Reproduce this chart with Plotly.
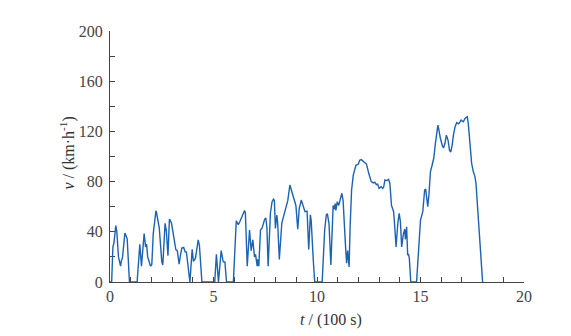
import plotly.graph_objects as go

# time in units of 100 s, speed in km/h
t = [0, 0.08, 0.14, 0.19, 0.28, 0.33, 0.41, 0.51, 0.55, 0.6, 0.72, 0.83, 0.94,
     1.31, 1.44, 1.52, 1.65, 1.72, 1.77, 1.82, 1.96, 2.02, 2.09, 2.22, 2.25,
     2.38, 2.5, 2.55, 2.66, 2.72, 2.8, 2.87, 2.9, 2.97, 3.07, 3.18, 3.25, 3.34,
     3.4, 3.47, 3.56, 3.63, 3.69, 3.79, 3.86, 3.97, 4.03, 4.13, 4.26, 4.32,
     4.44, 5.06, 5.14, 5.24, 5.37, 5.47, 5.55, 5.63, 5.96,
     6.1, 6.2, 6.27, 6.4, 6.5, 6.54, 6.61, 6.63, 6.74, 6.82, 6.9, 6.98, 7.03,
     7.11, 7.14, 7.19, 7.27, 7.35, 7.47, 7.53, 7.58, 7.64, 7.75, 7.83, 7.9,
     7.94, 7.99, 8.06, 8.1, 8.18, 8.3, 8.45, 8.5, 8.59, 8.69, 8.79, 8.83,
     8.93, 8.98, 9.07, 9.14, 9.24, 9.33, 9.42, 9.52, 9.6, 9.68, 9.72, 9.82,
     9.89, 10.25, 10.37, 10.45, 10.5, 10.58, 10.67, 10.78, 10.83, 10.88,
     10.91, 10.98, 11.05, 11.2, 11.26, 11.38, 11.43, 11.48, 11.55, 11.6,
     11.67, 11.75, 11.88, 12.0, 12.06, 12.14, 12.26, 12.39, 12.5, 12.62,
     12.72, 12.79, 12.87, 12.93, 13.0, 13.1, 13.17, 13.22, 13.28, 13.38,
     13.46, 13.52, 13.6, 13.65, 13.7, 13.73, 13.82, 13.9, 13.97, 14.03, 14.09,
     14.17, 14.24, 14.27, 14.33, 14.38, 14.42, 14.46, 14.53, 14.81, 14.89,
     15.0, 15.11, 15.2, 15.25, 15.35, 15.41, 15.48, 15.56, 15.64, 15.72,
     15.79, 15.84, 15.89, 15.96, 16.07, 16.12, 16.18, 16.25, 16.33, 16.4,
     16.46, 16.53, 16.59, 16.67, 16.75, 16.83, 16.89, 16.96, 17.07, 17.15,
     17.26, 17.31, 17.39, 17.47, 17.55, 17.63, 17.68, 17.76, 17.87, 18.0]
v = [0, 0, 28, 31, 45, 40, 20, 12.6, 17, 19, 39, 34.6, 0,
     0, 30, 12.6, 38.6, 28, 30, 20, 12.6, 14, 38.6, 56.8, 55,
     43, 16.4, 13.5, 46.7, 41, 21, 50, 49.5, 47, 37.7, 25.8, 25, 14.3,
     21, 27, 27.5, 24, 24, 11.8, 0, 26, 16.5, 19, 33.5, 29,
     0, 0, 22, 0, 25, 16, 16, 0, 0,
     48.8, 45.6, 48, 53, 57, 55, 20, 12.6, 41.4, 25, 33.7, 20, 22,
     12.6, 18, 12.6, 41.4, 43, 50, 51, 43, 12.6, 55, 64, 66,
     65, 42.7, 53.4, 47, 18, 47, 57, 60, 65, 77.3, 71, 70,
     64.5, 61, 42, 58.5, 65.3, 61, 56, 56.5, 26, 53.5, 49, 17.5,
     0, 0, 41.4, 53.4, 54.5, 46.5, 13.5, 61, 58, 62.5,
     57, 64, 61, 70.7, 65, 28, 15, 25, 12, 44,
     73, 85, 93, 94, 97, 97.5, 96, 94, 86.6, 80,
     79, 79.5, 77.6, 78, 74.6, 76, 74.6, 75.5, 81.3, 80.8,
     81.8, 78.5, 61, 58, 56, 50, 28, 46, 54.7, 48, 28,
     38, 42, 34, 44, 21.3, 22.5, 18.9, 0, 0, 17.5,
     49.4, 56, 73.3, 74, 60, 70, 88, 93, 98.6, 110.5,
     121, 125, 121, 114.5, 107.8, 107.3, 110.5, 117, 113, 105,
     103.6, 109, 117, 123.7, 127, 126, 127, 129, 127.7, 130.4,
     131.7, 126, 110.5, 94.6, 88, 84, 78.6, 57.4, 25.5, 0]

x_tickvals = [0, 5, 10, 15, 20]
y_tickvals = [0, 40, 80, 120, 160, 200]

FONT = "Liberation Serif"
AXC = "#444444"

fig = go.Figure()
fig.add_trace(go.Scatter(x=t, y=v, mode="lines",
                         line=dict(color="#1b63b2", width=1.4),
                         hoverinfo="skip", showlegend=False))

fig.update_layout(
    width=571, height=336,
    margin=dict(l=109.5, r=47, t=30.7, b=54.3),
    paper_bgcolor="white", plot_bgcolor="white",
    font=dict(family=FONT, size=16, color=AXC),
    showlegend=False,
    xaxis=dict(range=[0, 20], tickvals=x_tickvals, ticks="inside", ticklen=5,
               tickcolor=AXC, showline=True, linecolor=AXC, linewidth=1,
               showgrid=False, zeroline=False, layer="below traces",
               tickfont=dict(family=FONT, size=16, color=AXC),
               minor=dict(dtick=1, ticks="inside", ticklen=5, tickcolor=AXC,
                          showgrid=False)),
    yaxis=dict(range=[0, 200], tickvals=y_tickvals, ticks="inside", ticklen=5,
               tickcolor=AXC, showline=True, linecolor=AXC, linewidth=1,
               showgrid=False, zeroline=False, layer="below traces",
               tickfont=dict(family=FONT, size=16, color=AXC),
               ticklabelstandoff=3,
               minor=dict(dtick=20, ticks="inside", ticklen=5, tickcolor=AXC,
                          showgrid=False)),
    annotations=[
        dict(text="<i>t</i> / (100 s)", xref="paper", yref="paper",
             x=0.534, y=-0.153, xanchor="center", yanchor="middle",
             showarrow=False, font=dict(family=FONT, size=16, color="#333333")),
        dict(text="<i>v</i> / (km·h<sup>-1</sup>)", xref="paper", yref="paper",
             x=-0.103, y=0.513, xanchor="center", yanchor="middle",
             textangle=-90, showarrow=False,
             font=dict(family=FONT, size=16, color="#333333")),
    ],
)

fig.write_html("out.html")
